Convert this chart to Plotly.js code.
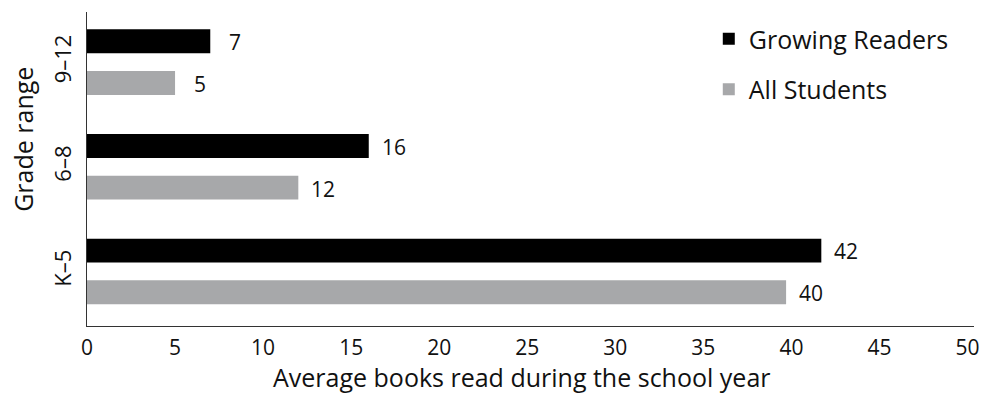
<!DOCTYPE html>
<html>
<head>
<meta charset="utf-8">
<script src="https://cdn.plot.ly/plotly-3.0.1.min.js"></script>
<style>html,body{margin:0;padding:0;background:#fff;}#chart{width:998px;height:394px;}</style>
</head>
<body>
<div id="chart"></div>
<script>
const categories = ["K\u20135", "6\u20138", "9\u201312"];
const growingReaders = [41.7, 16, 7];
const allStudents = [39.7, 12, 5];
const growingLabels = ["42", "16", "7"];
const allLabels = ["40", "12", "5"];
const xTicks = [0, 5, 10, 15, 20, 25, 30, 35, 40, 45, 50];
const xTitle = "Average books read during the school year";
const yTitle = "Grade range";

const FONT = "Open Sans, sans-serif";
const black = "#000000";
const gray = "#a7a8aa";

const traces = [
  {
    type: "bar", orientation: "h", name: "Growing Readers",
    y: categories, x: growingReaders,
    marker: {color: black}, offset: 0.085, width: 0.229,
    legendgroup: "g1", hoverinfo: "skip"
  },
  {
    type: "bar", orientation: "h", name: "All Students",
    y: categories, x: allStudents,
    marker: {color: gray}, offset: -0.313, width: 0.229,
    legendgroup: "g2", hoverinfo: "skip"
  }
];

const annotations = [];
categories.forEach((c, i) => {
  annotations.push({x: growingReaders[i], y: c, xref: "x", yref: "y", text: growingLabels[i],
    showarrow: false, xanchor: "center", yanchor: "middle", xshift: 25, yshift: 20,
    font: {family: FONT, size: 21, color: "#111"}});
  annotations.push({x: allStudents[i], y: c, xref: "x", yref: "y", text: allLabels[i],
    showarrow: false, xanchor: "center", yanchor: "middle", xshift: 25, yshift: -22,
    font: {family: FONT, size: 21, color: "#111"}});
});
// axis titles
annotations.push({xref: "paper", yref: "paper", x: 0.4904, y: -0.163, text: xTitle,
  showarrow: false, xanchor: "center", yanchor: "middle",
  font: {family: FONT, size: 25, color: "#111"}});
annotations.push({xref: "paper", yref: "paper", x: -0.0722, y: 0.596, text: yTitle,
  showarrow: false, xanchor: "center", yanchor: "middle", textangle: -90,
  font: {family: FONT, size: 25, color: "#111"}});

const layout = {
  width: 998, height: 394,
  margin: {l: 87, r: 24, t: 12, b: 68},
  paper_bgcolor: "#fff", plot_bgcolor: "#fff",
  font: {family: FONT, size: 21, color: "#111"},
  barmode: "overlay",
  showlegend: true,
  legend: {x: 0.701, xanchor: "left", y: 0.987, yanchor: "top",
    font: {family: FONT, size: 25, color: "#111"}, tracegroupgap: 15,
    bgcolor: "rgba(0,0,0,0)", traceorder: "grouped"},
  xaxis: {
    range: [0, 50.37], tickvals: xTicks, ticktext: xTicks.map(String),
    showgrid: false, zeroline: false, showline: true, linecolor: "#333", linewidth: 1,
    ticks: "", tickfont: {family: FONT, size: 21, color: "#111"},
    ticklabelstandoff: 3
  },
  yaxis: {
    type: "category", categoryorder: "array", categoryarray: categories,
    range: [-0.521, 2.48],
    showgrid: false, zeroline: false, showline: true, linecolor: "#333", linewidth: 1,
    ticks: "", tickangle: -90, tickfont: {family: FONT, size: 22, color: "#111"},
    ticklabelstandoff: 6
  },
  annotations: annotations
};

Plotly.newPlot("chart", traces, layout, {displayModeBar: false, staticPlot: true});
</script>
</body>
</html>
